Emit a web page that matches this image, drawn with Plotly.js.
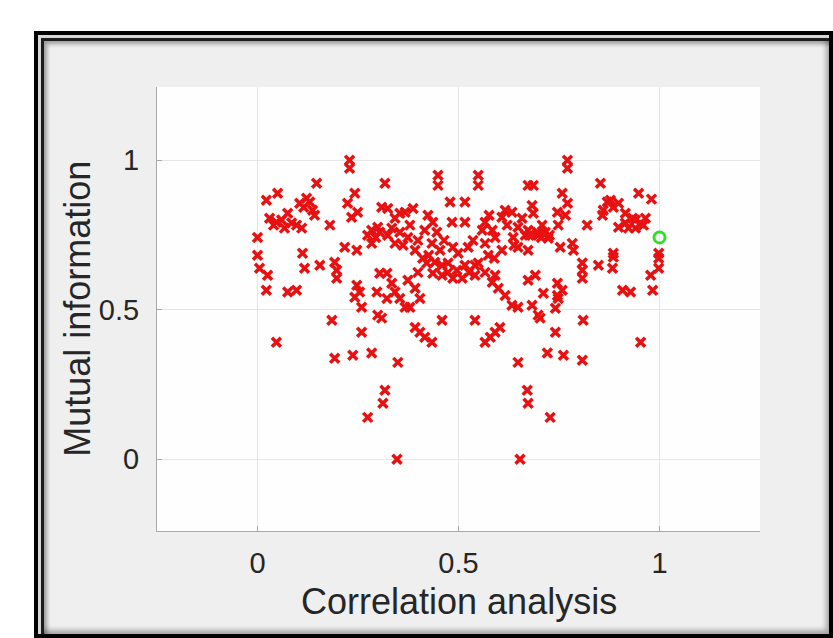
<!DOCTYPE html>
<html>
<head>
<meta charset="utf-8">
<script src="https://cdn.plot.ly/plotly-3.0.1.min.js"></script>
<style>
  html, body { margin:0; padding:0; background:#ffffff; width:833px; height:638px; overflow:hidden; }
  #frame { position:absolute; left:34px; top:31px; width:799px; height:607px; box-sizing:border-box;
           border:4px solid #000; background:#d6d6d6; padding:3px 0 0 3px; }
  #inner { width:100%; height:100%; box-sizing:border-box; border-left:3px solid #1c1c1c; border-top:3px solid #1c1c1c;
           background:#eeefee; box-shadow: inset 3px 3px 4px rgba(0,0,0,0.35), inset -3px -4px 5px rgba(0,0,0,0.3); }
  #chart { position:absolute; left:0; top:0; width:833px; height:638px; }
</style>
</head>
<body>
<div id="frame"><div id="inner"></div></div>
<div id="chart"></div>
<script>
// Correlation analysis (x) and Mutual information (y) for each candidate (red crosses)
const corrX = [
  0.229,0.229,0.147,0.050,0.022,0.122,0.105,0.137,0.142,0.030,0.047,0.075,0.067,0.097,0.110,0.180,
  0.000,0.000,0.112,0.242,0.224,0.249,0.234,0.317,0.309,0.284,0.299,0.217,0.247,0.284,
  0.449,0.449,0.549,0.549,0.479,0.516,0.484,0.516,0.324,0.367,0.387,0.354,0.334,0.354,0.374,0.342,
  0.436,0.416,0.446,0.399,0.434,0.454,0.486,0.524,0.499,0.566,0.559,0.584,0.566,0.591,0.616,0.633,
  0.608,0.648,0.666,0.636,0.648,0.673,
  0.771,0.771,0.686,0.853,0.758,0.771,0.683,0.686,0.746,0.766,0.948,0.980,0.878,0.898,0.860,0.858,
  0.915,0.933,0.965,0.953,0.940,0.898,0.923,0.820,0.748,0.708,0.716,0.698,0.673,0.673,0.723,0.753,
  0.783,0.786,0.885,0.998,
  0.005,0.025,0.022,0.075,0.097,0.117,0.155,0.192,0.197,0.197,0.247,0.254,0.242,0.259,0.297,0.304,
  0.322,0.299,0.309,0.185,0.259,0.047,0.192,0.237,0.284,
  0.322,0.334,0.342,0.354,0.367,0.379,0.374,0.392,0.404,0.399,0.421,0.441,0.436,0.474,0.496,0.516,
  0.486,0.509,0.549,0.566,0.584,0.599,0.616,0.633,0.648,0.591,0.459,0.541,0.392,0.404,0.416,0.434,
  0.603,0.591,0.579,0.566,0.349,0.648,
  0.808,0.808,0.808,0.848,0.883,0.885,0.998,0.998,0.978,0.908,0.928,0.983,0.746,0.758,0.746,0.748,
  0.711,0.691,0.673,0.683,0.698,0.703,0.741,0.810,0.741,0.953,0.721,0.761,0.808,
  0.317,0.312,0.274,0.347,0.671,0.673,0.728,0.653,
  0.342,0.379,0.324,0.362,0.392,0.658,0.621,0.676,0.638,0.608,0.424,0.464,0.576,0.536,
  0.459,0.541,0.474,0.526,0.459,0.541,0.411,0.589,0.426,0.574,
  0.274,0.294,0.304,0.726,0.706,0.696,0.040,0.060,0.085,0.960,0.940,0.915,0.115,0.130,0.885,0.870
];
const mutualInfo = [
  1.000,0.973,0.923,0.890,0.866,0.873,0.856,0.833,0.816,0.806,0.793,0.823,0.773,0.783,0.773,0.783,
  0.742,0.682,0.689,0.890,0.856,0.826,0.809,0.923,0.843,0.766,0.776,0.709,0.699,0.722,
  0.950,0.916,0.950,0.916,0.860,0.860,0.793,0.793,0.839,0.826,0.839,0.823,0.773,0.759,0.742,0.722,
  0.793,0.766,0.759,0.732,0.722,0.699,0.709,0.709,0.689,0.793,0.766,0.766,0.722,0.742,0.833,0.826,
  0.809,0.776,0.749,0.742,0.709,0.916,
  1.000,0.973,0.916,0.923,0.890,0.856,0.849,0.823,0.826,0.816,0.890,0.870,0.866,0.856,0.833,0.816,
  0.823,0.806,0.806,0.789,0.773,0.776,0.773,0.783,0.783,0.783,0.759,0.749,0.766,0.699,0.739,0.709,
  0.722,0.699,0.689,0.689,
  0.639,0.615,0.565,0.559,0.565,0.639,0.649,0.659,0.632,0.605,0.582,0.559,0.542,0.508,0.559,0.622,
  0.538,0.482,0.472,0.465,0.425,0.391,0.338,0.348,0.355,
  0.622,0.589,0.559,0.538,0.508,0.508,0.599,0.572,0.538,0.625,0.656,0.659,0.622,0.656,0.632,0.649,
  0.605,0.605,0.656,0.625,0.592,0.572,0.548,0.515,0.508,0.615,0.465,0.465,0.441,0.425,0.408,0.391,
  0.441,0.425,0.408,0.391,0.324,0.324,
  0.656,0.632,0.605,0.649,0.639,0.676,0.672,0.639,0.615,0.565,0.559,0.565,0.589,0.565,0.548,0.538,
  0.555,0.615,0.599,0.515,0.482,0.472,0.505,0.465,0.425,0.391,0.355,0.348,0.331,
  0.231,0.187,0.140,0.000,0.231,0.187,0.140,0.000,
  0.806,0.783,0.749,0.716,0.699,0.806,0.783,0.749,0.716,0.699,0.816,0.732,0.816,0.732,
  0.649,0.649,0.625,0.625,0.615,0.615,0.672,0.672,0.682,0.682,
  0.749,0.742,0.759,0.749,0.742,0.759,0.783,0.800,0.790,0.783,0.800,0.790,0.843,0.860,0.843,0.860
];
// Selected point (green circle)
const selX = [1.0];
const selY = [0.742];

const xTicks = [0, 0.5, 1];
const xTickText = ['0', '0.5', '1'];
const yTicks = [0, 0.5, 1];
const yTickText = ['0', '0.5', '1'];
const xTitle = 'Correlation analysis';
const yTitle = 'Mutual information';

const textColor = '#262626';
const fontFam = '"Liberation Sans", Arial, sans-serif';

const traces = [
  { x: corrX, y: mutualInfo, type: 'scatter', mode: 'markers', hoverinfo: 'skip',
    marker: { symbol: 'x-thin-open', size: 9, color: '#e81010', line: { color: '#e81010', width: 3.5 } } },
  { x: selX, y: selY, type: 'scatter', mode: 'markers', hoverinfo: 'skip',
    marker: { symbol: 'circle-open', size: 11, color: '#2ee02e', line: { color: '#2ee02e', width: 3 } } }
];

const layout = {
  width: 833, height: 638,
  margin: { l: 157, r: 73, t: 87, b: 107, pad: 0 },
  paper_bgcolor: 'rgba(0,0,0,0)',
  plot_bgcolor: '#fdfefd',
  showlegend: false,
  font: { family: fontFam, color: textColor },
  xaxis: {
    range: [-0.25, 1.25], tickvals: xTicks, ticktext: xTickText,
    showgrid: true, gridcolor: '#e6e6e6', gridwidth: 1, zeroline: false,
    showline: true, linecolor: '#a8a8a8', linewidth: 1, mirror: false,
    ticks: 'inside', ticklen: 5, tickcolor: '#a8a8a8',
    tickfont: { size: 29, color: textColor, family: fontFam },
    ticklabelstandoff: 6
  },
  yaxis: {
    range: [-0.24, 1.245], tickvals: yTicks, ticktext: yTickText,
    showgrid: true, gridcolor: '#e6e6e6', gridwidth: 1, zeroline: false,
    showline: true, linecolor: '#a8a8a8', linewidth: 1, mirror: false,
    ticks: 'inside', ticklen: 5, tickcolor: '#a8a8a8',
    tickfont: { size: 29, color: textColor, family: fontFam },
    ticklabelstandoff: 11
  },
  annotations: [
    { text: xTitle, xref: 'paper', yref: 'paper', x: 0.5, y: -0.158, xanchor: 'center', yanchor: 'middle',
      showarrow: false, font: { size: 36, color: textColor, family: fontFam } },
    { text: yTitle, xref: 'paper', yref: 'paper', x: -0.133, y: 0.5, xanchor: 'center', yanchor: 'middle',
      textangle: -90, showarrow: false, font: { size: 36, color: textColor, family: fontFam } }
  ]
};

Plotly.newPlot('chart', traces, layout, { staticPlot: true, displayModeBar: false });
</script>
</body>
</html>
